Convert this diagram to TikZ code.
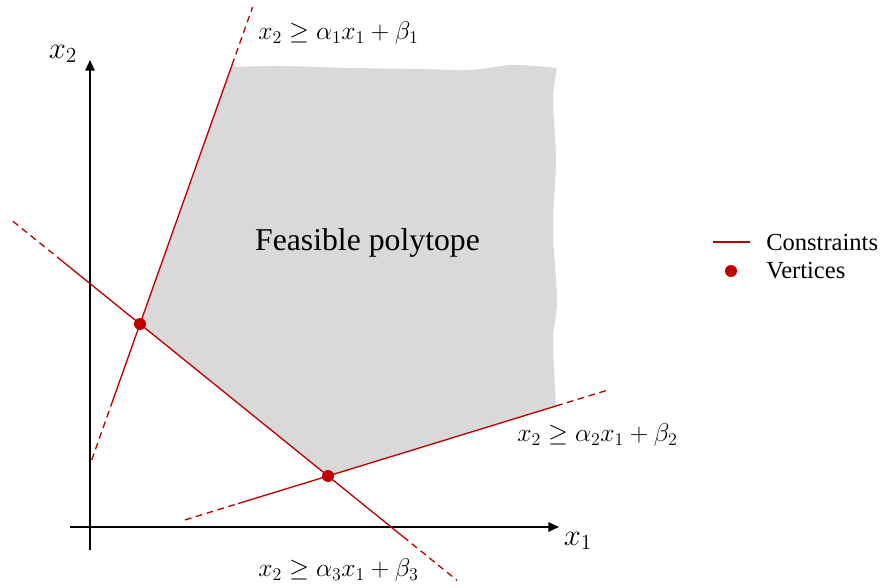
\RequirePackage{fix-cm}
\documentclass[tikz,border=0pt]{standalone}
\usepackage{fontspec}
\setmainfont{Liberation Serif}
\newfontfamily\tnr{Liberation Serif}
\usetikzlibrary{arrows.meta}
\definecolor{cred}{HTML}{C00000}
\definecolor{cgray}{HTML}{D9D9D9}
\begin{document}
\begin{tikzpicture}[x=0.75pt,y=-0.75pt,
  cline/.style={draw=cred,line width=1pt},
  cdash/.style={draw=cred,line width=1pt,dash pattern=on 5pt off 3.5pt},
  axisline/.style={draw=black,line width=1.4pt,-{Triangle[length=8pt,width=7pt]}},
  vtx/.style={circle,fill=cred,inner sep=0pt,minimum size=9pt},
  mlabel/.style={inner sep=0pt,font=\fontsize{19.2}{22}\selectfont},
  alabel/.style={inner sep=0pt,font=\fontsize{23}{26}\selectfont},
  legtext/.style={inner sep=0pt,anchor=west,font=\tnr\fontsize{18.4}{22}\selectfont}]
\useasboundingbox (0,0) rectangle (882,588);
% coordinates
\coordinate (L1a) at (91.7,460);
\coordinate (L1b) at (111.2,405);
\coordinate (L1c) at (232,65);
\coordinate (L1d) at (252.6,7);
\coordinate (L3a) at (13,221.3);
\coordinate (L3b) at (60,259.3);
\coordinate (L3c) at (403,536.6);
\coordinate (L3d) at (457,580.3);
\coordinate (L2a) at (185,519.9);
\coordinate (L2b) at (238,503.6);
\coordinate (L2c) at (556,406);
\coordinate (L2d) at (607,390.3);
\coordinate (v1c) at (140,324);
\coordinate (v2c) at (328,476);
% feasible region
\fill[cgray] (v1c) -- (L1c)
  -- plot[smooth] coordinates {(232,67) (280,66) (350,68) (420,69) (470,70) (510,65) (535,66) (557,68)}
  -- plot[smooth] coordinates {(557,68) (553,100) (556,160) (553,230) (557,300) (553,340) (556,406)}
  -- (L2c) -- (v2c) -- cycle;
\node[inner sep=0pt,anchor=base,font=\tnr\fontsize{23.8}{28}\selectfont] (feas) at (367.5,250) {Feasible polytope};
% axes
\coordinate (xs) at (70,527);
\coordinate (xe) at (559,527);
\coordinate (ys) at (90,550);
\coordinate (ye) at (90,60);
\draw[axisline] (xs) -- (xe);
\draw[axisline] (ys) -- (ye);
\node[alabel] (x1lab) at (578,541) {$x_1$};
\node[alabel] (x2lab) at (63,54) {$x_2$};
% constraints
\draw[cdash] (L1a) -- (L1b);
\draw[cline] (L1b) -- (v1c) -- (L1c);
\draw[cdash] (L1c) -- (L1d);
\draw[cdash] (L3a) -- (L3b);
\draw[cline] (L3b) -- (v1c) -- (v2c) -- (L3c);
\draw[cdash] (L3c) -- (L3d);
\draw[cdash] (L2a) -- (L2b);
\draw[cline] (L2b) -- (v2c) -- (L2c);
\draw[cdash] (L2c) -- (L2d);
\node[vtx] (v1) at (v1c) {};
\node[vtx] (v2) at (v2c) {};
% labels
\node[mlabel,anchor=west] (c1lab) at (258,33) {$x_2 \geq \alpha_1 x_1 + \beta_1$};
\node[mlabel,anchor=west] (c2lab) at (517,435) {$x_2 \geq \alpha_2 x_1 + \beta_2$};
\node[mlabel,anchor=west] (c3lab) at (258,570) {$x_2 \geq \alpha_3 x_1 + \beta_3$};
% legend
\coordinate (lega) at (713,242);
\coordinate (legb) at (750,242);
\draw[cline] (lega) -- (legb);
\node[vtx] (legdot) at (731,271) {};
\node[legtext] (legc) at (766,242) {Constraints};
\node[legtext] (legv) at (766,271) {Vertices};
\end{tikzpicture}
\end{document}
